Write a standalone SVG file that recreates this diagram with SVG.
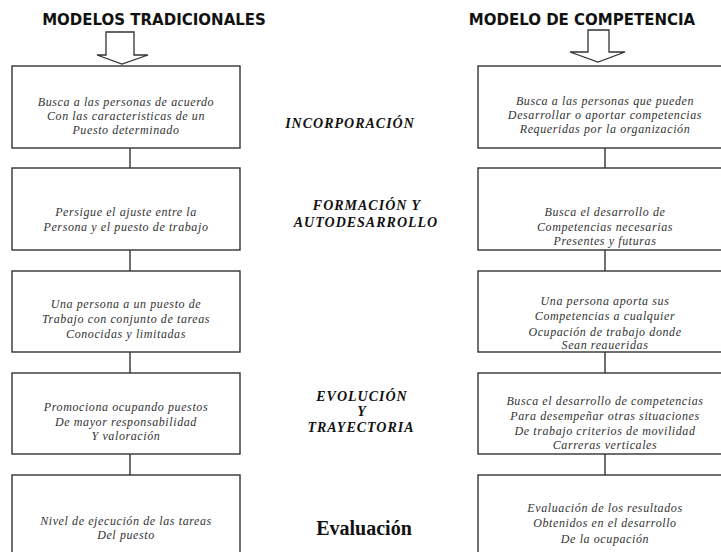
<svg xmlns="http://www.w3.org/2000/svg" width="721" height="552" viewBox="0 0 721 552">
<style>
.title{font-family:"DejaVu Sans",sans-serif;font-weight:bold;font-size:15px;fill:#111;text-anchor:middle}
.box{fill:#fff;stroke:#333;stroke-width:1.4}
.arrow{fill:#fff;stroke:#333;stroke-width:1.3;stroke-linejoin:miter}
.t{font-family:"Liberation Serif","Times New Roman",serif;font-style:italic;font-size:12px;letter-spacing:0.6px;fill:#333;text-anchor:middle}
.lbl{font-family:"Liberation Serif","Times New Roman",serif;font-style:italic;font-weight:bold;font-size:14px;letter-spacing:1px;fill:#111;text-anchor:middle}
.ev{font-family:"Liberation Serif","Times New Roman",serif;font-weight:bold;font-size:20px;fill:#111;text-anchor:middle}
.conn{stroke:#333;stroke-width:1.4;fill:none}
</style>
<rect width="721" height="552" fill="#fff"/>
<g id="headers">
<text class="title" x="154" y="25">MODELOS TRADICIONALES</text>
<text class="title" x="582" y="25">MODELO DE COMPETENCIA</text>
<path class="arrow" d="M106,32 H134 V55 H148 L122,64 L97,55 H106 Z"/>
<path class="arrow" d="M588,30 H609 V52 H625 L598,62 L570,52 H588 Z"/>
</g>
<g id="connectors">
<line class="conn" x1="130" y1="148" x2="130" y2="168"/>
<line class="conn" x1="130" y1="250" x2="130" y2="271"/>
<line class="conn" x1="130" y1="352" x2="130" y2="373"/>
<line class="conn" x1="130" y1="454" x2="130" y2="475"/>
<line class="conn" x1="605" y1="148" x2="605" y2="168"/>
<line class="conn" x1="605" y1="250" x2="605" y2="271"/>
<line class="conn" x1="605" y1="352" x2="605" y2="373"/>
<line class="conn" x1="605" y1="454" x2="605" y2="475"/>
</g>
<g id="trad1">
<rect class="box" x="12" y="66" width="228" height="82"/>
<text class="t" x="126" y="106">Busca a las personas de acuerdo</text>
<text class="t" x="126" y="120">Con las caracteristicas de un</text>
<text class="t" x="126" y="134">Puesto determinado</text>
</g>
<g id="trad2">
<rect class="box" x="12" y="168" width="228" height="82"/>
<text class="t" x="126" y="216">Persigue el ajuste entre la</text>
<text class="t" x="126" y="231">Persona  y el puesto de trabajo</text>
</g>
<g id="trad3">
<rect class="box" x="12" y="271" width="228" height="81"/>
<text class="t" x="126" y="308">Una persona a un puesto de</text>
<text class="t" x="126" y="323">Trabajo  con conjunto de tareas</text>
<text class="t" x="126" y="338">Conocidas y limitadas</text>
</g>
<g id="trad4">
<rect class="box" x="12" y="373" width="228" height="81"/>
<text class="t" x="126" y="411">Promociona ocupando puestos</text>
<text class="t" x="126" y="426">De  mayor responsabilidad</text>
<text class="t" x="126" y="440">Y valoración</text>
</g>
<g id="trad5">
<rect class="box" x="12" y="475" width="228" height="90"/>
<text class="t" x="126" y="525">Nivel de ejecución de las tareas</text>
<text class="t" x="126" y="539">Del puesto</text>
</g>
<g id="comp1">
<rect class="box" x="478" y="66" width="256" height="82"/>
<text class="t" x="605" y="105">Busca a las personas que pueden</text>
<text class="t" x="605" y="119">Desarrollar o aportar competencias</text>
<text class="t" x="605" y="133">Requeridas por la organización</text>
</g>
<g id="comp2">
<rect class="box" x="478" y="168" width="256" height="82"/>
<text class="t" x="605" y="216">Busca el desarrollo de</text>
<text class="t" x="605" y="231">Competencias necesarias</text>
<text class="t" x="605" y="245">Presentes y futuras</text>
</g>
<g id="comp3">
<rect class="box" x="478" y="271" width="256" height="81"/>
<text class="t" x="605" y="305">Una persona aporta sus</text>
<text class="t" x="605" y="320">Competencias a  cualquier</text>
<text class="t" x="605" y="336">Ocupación  de trabajo donde</text>
<text class="t" x="605" y="349">Sean reaueridas</text>
</g>
<g id="comp4">
<rect class="box" x="478" y="373" width="256" height="81"/>
<text class="t" x="605" y="405">Busca el desarrollo de competencias</text>
<text class="t" x="605" y="420">Para desempeñar otras situaciones</text>
<text class="t" x="605" y="435">De trabajo criterios de movilidad</text>
<text class="t" x="605" y="449">Carreras verticales</text>
</g>
<g id="comp5">
<rect class="box" x="478" y="475" width="256" height="90"/>
<text class="t" x="605" y="512">Evaluación de los resultados</text>
<text class="t" x="605" y="527">Obtenidos  en el desarrollo</text>
<text class="t" x="605" y="543">De la ocupación</text>
</g>
<g id="labels">
<text class="lbl" x="350" y="128">INCORPORACIÓN</text>
<text class="lbl" x="367" y="210">FORMACIÓN Y</text>
<text class="lbl" x="366" y="227">AUTODESARROLLO</text>
<text class="lbl" x="362" y="401">EVOLUCIÓN</text>
<text class="lbl" x="362" y="416">Y</text>
<text class="lbl" x="361" y="432">TRAYECTORIA</text>
<text class="ev" x="364" y="535">Evaluación</text>
</g>
</svg>
